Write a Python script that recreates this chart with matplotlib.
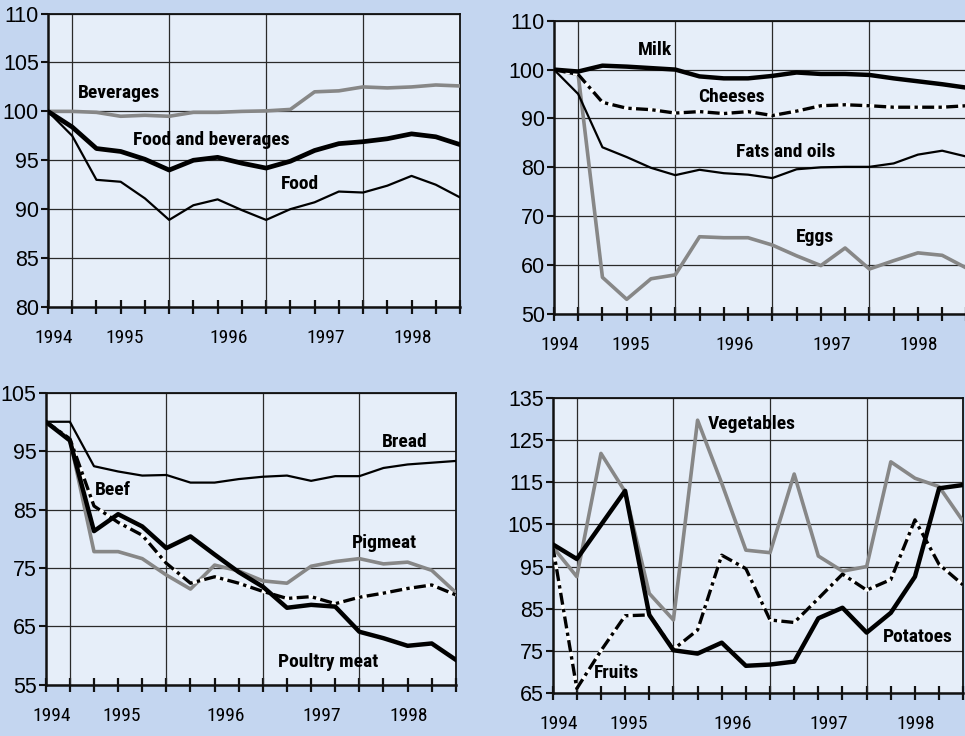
import numpy as np
import matplotlib
matplotlib.use("Agg")
import matplotlib.pyplot as plt

# quarterly index, 1994 = 100
quarters = np.arange(18)
year_labels = ["1994", "1995", "1996", "1997", "1998"]
year_label_pos = [0.25, 3.15, 7.45, 11.45, 15.05]

beverages = [100, 100, 99.9, 99.5, 99.6, 99.5, 99.9, 99.9, 100, 100.05,
             100.2, 102.0, 102.1, 102.5, 102.4, 102.5, 102.7, 102.6]
food_bev = [100, 98.4, 96.2, 95.9, 95.1, 94.0, 95.0, 95.3, 94.7, 94.2,
            94.9, 96.0, 96.7, 96.9, 97.2, 97.7, 97.4, 96.6]
food = [100, 97.5, 93.0, 92.8, 91.1, 88.9, 90.4, 91.0, 89.9, 88.9,
        90.0, 90.7, 91.8, 91.7, 92.4, 93.4, 92.5, 91.2]

milk = [100, 99.6, 100.8, 100.6, 100.3, 100.0, 98.6, 98.2, 98.2, 98.7,
        99.4, 99.1, 99.1, 98.9, 98.2, 97.6, 97.0, 96.3]
cheeses = [100, 99.0, 93.3, 92.1, 91.8, 91.1, 91.4, 91.0, 91.4, 90.6,
           91.5, 92.6, 92.8, 92.6, 92.3, 92.3, 92.3, 92.6]
fats_oils = [100, 95.0, 84.1, 82.1, 79.9, 78.4, 79.5, 78.8, 78.5, 77.8,
             79.6, 80.0, 80.1, 80.1, 80.8, 82.6, 83.4, 82.2]
eggs = [100, 99.0, 57.5, 53.0, 57.2, 58.0, 65.8, 65.6, 65.6, 64.1,
        61.9, 59.9, 63.5, 59.2, 60.9, 62.5, 62.0, 59.4]

bread = [100, 100, 92.4, 91.5, 90.8, 90.9, 89.6, 89.6, 90.2, 90.6,
         90.8, 89.9, 90.7, 90.7, 92.1, 92.7, 93.0, 93.3]
beef = [100, 97.1, 85.6, 82.8, 80.6, 75.8, 72.4, 73.5, 72.4, 71.0,
        69.8, 70.1, 68.9, 70.0, 70.7, 71.5, 72.1, 70.4]
pigmeat = [100, 97.0, 77.8, 77.8, 76.6, 73.8, 71.4, 75.5, 74.5, 72.8,
           72.4, 75.3, 76.1, 76.6, 75.7, 76.0, 74.6, 70.8]
poultry = [100, 96.8, 81.3, 84.2, 82.1, 78.4, 80.4, 77.3, 74.3, 71.8,
           68.2, 68.7, 68.4, 64.1, 63.0, 61.7, 62.1, 59.3]

vegetables = [99.7, 92.6, 121.9, 112.8, 88.6, 82.3, 129.8, 114.8, 98.9, 98.3,
              117.0, 97.5, 93.9, 95.0, 119.9, 116.0, 114.0, 105.7]
potatoes = [100.3, 96.8, 104.9, 113.0, 83.5, 75.1, 74.3, 76.9, 71.4, 71.7,
            72.4, 82.7, 85.2, 79.3, 84.0, 92.6, 113.6, 114.4]
fruits = [100, 66.0, 75.0, 83.3, 83.5, 75.3, 79.9, 97.7, 94.5, 82.3,
          81.7, 87.4, 93.2, 89.4, 91.9, 106.1, 95.5, 90.6]

FIG_BG = "#c4d6f0"
AX_BG = "#e6eef9"
GRAY = "#878787"
NARROW = ["Liberation Sans Narrow", "Roboto Condensed", "Roboto", "DejaVu Sans"]
WIDE = ["Liberation Sans", "DejaVu Sans"]

fig = plt.figure(figsize=(9.65, 7.36), dpi=100, facecolor=FIG_BG)


def make_axes(rect, ylim, yticks):
    ax = fig.add_axes(rect)
    ax.set_facecolor(AX_BG)
    ax.set_xlim(0, 17)
    ax.set_ylim(*ylim)
    ax.set_yticks(yticks)
    ax.set_yticklabels([str(t) for t in yticks], family=WIDE, fontsize=15.5)
    ax.set_xticks(quarters)
    ax.set_xticklabels([])
    ax.set_xticks(year_label_pos, minor=True)
    ax.set_xticklabels(year_labels, minor=True, family=NARROW, fontsize=14)
    # cross-shaped quarter ticks, short outward ticks on the value axis
    ax.tick_params(axis="x", which="major", direction="inout", length=10,
                   width=1.6, color="#111111")
    ax.tick_params(axis="x", which="minor", length=0, pad=16)
    ax.tick_params(axis="y", which="major", direction="out", length=5,
                   width=1.5, pad=1.5, color="#111111")
    ax.grid(True, axis="y", color="#2a2a2a", lw=0.9)
    ax.set_axisbelow(True)
    for q in [1, 5, 9, 13]:
        ax.axvline(q, color="#2a2a2a", lw=0.9, zorder=1)
    for s in ax.spines.values():
        s.set_color("#111111")
        s.set_linewidth(1.3)
    ax.spines["left"].set_linewidth(1.8)
    ax.spines["bottom"].set_linewidth(1.8)
    return ax


def dashdot(ax, y):
    ax.plot(quarters, y, color="white", lw=2.4, zorder=3, solid_capstyle="butt")
    ax.plot(quarters, y, color="black", lw=2.4, zorder=4,
            dashes=(3.6, 1.3, 1.0, 1.3), solid_joinstyle="round")


def label(ax, x, y, s):
    ax.text(x, y, s, ha="center", va="center", family=NARROW,
            fontsize=14, fontweight="bold", zorder=6)


# top left
ax1 = make_axes([0.0497, 0.583, 0.427, 0.3985], (80, 110), [80, 85, 90, 95, 100, 105, 110])
ax1.plot(quarters, beverages, color=GRAY, lw=2.6, zorder=3)
ax1.plot(quarters, food, color="black", lw=1.6, zorder=3)
ax1.plot(quarters, food_bev, color="black", lw=3.4, zorder=4)
label(ax1, 2.93, 101.85, "Beverages")
label(ax1, 6.75, 97.1, "Food and beverages")
label(ax1, 10.4, 92.6, "Food")

# top right
ax2 = make_axes([0.574, 0.5734, 0.4275, 0.3985], (50, 110), [50, 60, 70, 80, 90, 100, 110])
ax2.plot(quarters, eggs, color=GRAY, lw=2.6, zorder=3)
ax2.plot(quarters, fats_oils, color="black", lw=1.6, zorder=3)
dashdot(ax2, cheeses)
ax2.plot(quarters, milk, color="black", lw=3.2, zorder=5)
label(ax2, 4.15, 104.1, "Milk")
label(ax2, 7.3, 94.3, "Cheeses")
label(ax2, 9.55, 83.2, "Fats and oils")
label(ax2, 10.76, 65.7, "Eggs")

# bottom left
ax3 = make_axes([0.0474, 0.0693, 0.425, 0.3974], (55, 105), [55, 65, 75, 85, 95, 105])
ax3.plot(quarters, bread, color="black", lw=1.6, zorder=3)
ax3.plot(quarters, pigmeat, color=GRAY, lw=2.6, zorder=3)
dashdot(ax3, beef)
ax3.plot(quarters, poultry, color="black", lw=3.2, zorder=5)
label(ax3, 14.87, 96.6, "Bread")
label(ax3, 2.8, 88.3, "Beef")
label(ax3, 14.03, 79.2, "Pigmeat")
label(ax3, 11.72, 59.0, "Poultry meat")

# bottom right
ax4 = make_axes([0.5727, 0.0588, 0.4255, 0.4], (65, 135), [65, 75, 85, 95, 105, 115, 125, 135])
ax4.plot(quarters, vegetables, color=GRAY, lw=2.6, zorder=3)
dashdot(ax4, fruits)
ax4.plot(quarters, potatoes, color="black", lw=3.2, zorder=5)
label(ax4, 8.26, 128.9, "Vegetables")
label(ax4, 2.65, 69.6, "Fruits")
label(ax4, 15.1, 78.3, "Potatoes")

fig.savefig("out.png", dpi=100, facecolor=FIG_BG)
